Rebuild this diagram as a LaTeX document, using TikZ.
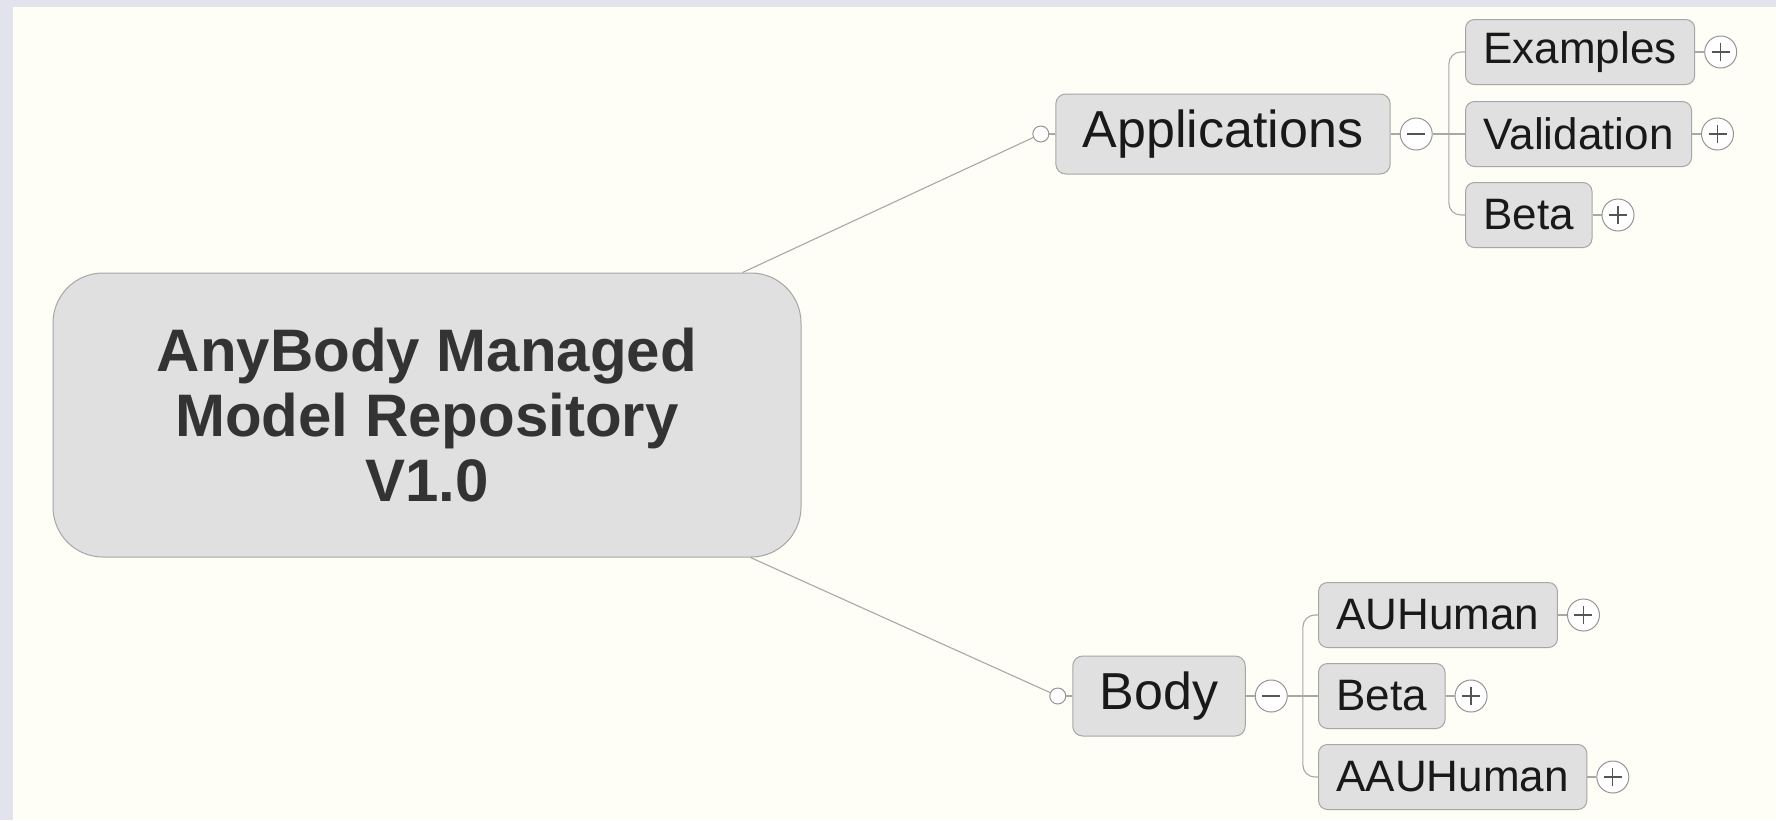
\documentclass[tikz,border=0pt]{standalone}
\usepackage{fontspec}
\setmainfont{Liberation Sans}
\usepackage{tikz}
\usetikzlibrary{positioning, calc}
\definecolor{paperbg}{HTML}{FEFEF6}
\definecolor{framebg}{HTML}{E3E3EE}
\definecolor{boxfill}{HTML}{E0E0E0}
\definecolor{boxline}{HTML}{A6A6A6}
\definecolor{linkgray}{HTML}{A8A8A8}
\definecolor{knobline}{HTML}{959595}
\definecolor{textdark}{HTML}{333333}
\definecolor{signcol}{HTML}{555555}

\begin{document}
\begin{tikzpicture}[x=1pt, y=-1pt,
    rootbox/.style={rectangle, rounded corners=50pt, draw=boxline, fill=boxfill, line width=1pt, minimum width=748pt, minimum height=284pt, align=center, text=textdark, font=\fontsize{60}{65}\selectfont\bfseries},
    topicbox/.style={rectangle, rounded corners=10pt, draw=boxline, fill=boxfill, line width=1pt, minimum height=80pt, inner xsep=27pt, text=black!90, font=\fontsize{52}{60}\selectfont},
    leafbox/.style={rectangle, rounded corners=9pt, draw=boxline, fill=boxfill, line width=1pt, minimum height=65pt, inner xsep=18pt, anchor=west, text=black!90, font=\fontsize{44}{50}\selectfont},
    knob/.style={circle, draw=knobline, fill=white, line width=1pt, minimum size=32pt, inner sep=0pt},
    expander/.style={knob, path picture={\draw[signcol, line width=1.2pt]
      ([xshift=-9pt]path picture bounding box.center) -- ([xshift=9pt]path picture bounding box.center)
      ([yshift=-9pt]path picture bounding box.center) -- ([yshift=9pt]path picture bounding box.center);}},
    collapser/.style={knob, path picture={\draw[signcol, line width=1.2pt]
      ([xshift=-9pt]path picture bounding box.center) -- ([xshift=9pt]path picture bounding box.center);}},
    stub/.style={circle, draw=knobline, fill=white, line width=1pt, minimum size=16pt, inner sep=0pt},
    link/.style={draw=linkgray, line width=1.1pt}]

  % Canvas
  \useasboundingbox (0,0) rectangle (1776,820);
  \fill[framebg] (0,0) rectangle (1776,820);
  \fill[paperbg] (13,7) rectangle (1776,820);

  % Root
  \node[rootbox] (root) at (427,415)
    {AnyBody Managed\\Model Repository\\V1.0};

  % Applications branch
  \node[topicbox] (app) at (1223,134) {Applications};
  \node[stub, left=6pt of app] (appd) {};
  \node[collapser, right=9pt of app] (appc) {};

  \node[leafbox] (ex) at (1465,52) {Examples};
  \node[leafbox] (val) at (1465,134) {Validation};
  \node[leafbox] (beA) at (1465,215) {Beta};
  \node[expander, right=9pt of ex] (exk) {};
  \node[expander, right=9pt of val] (valk) {};
  \node[expander, right=9pt of beA] (beAk) {};

  % Body branch
  \node[topicbox] (body) at (1159,696) {Body};
  \node[stub, left=6pt of body] (bodyd) {};
  \node[collapser, right=9pt of body] (bodyc) {};

  \node[leafbox] (au) at (1318,615) {AUHuman};
  \node[leafbox] (beB) at (1318,696) {Beta};
  \node[leafbox] (aau) at (1318,777) {AAUHuman};
  \node[expander, right=9pt of au] (auk) {};
  \node[expander, right=9pt of beB] (beBk) {};
  \node[expander, right=9pt of aau] (aauk) {};

  % Links
  \draw[link] ([xshift=-59pt]root.north east) -- (appd);
  \draw[link] (appd) -- (app);
  \draw[link] (app) -- (appc);
  \draw[link] (appc) -- (val);
  \coordinate (asplit) at ($(appc.east)!0.5!(val.west)$);
  \draw[link, rounded corners=12pt] (ex.west) -| (asplit) |- (beA.west);
  \draw[link] (ex) -- (exk);
  \draw[link] (val) -- (valk);
  \draw[link] (beA) -- (beAk);

  \draw[link] ([xshift=-51pt]root.south east) -- (bodyd);
  \draw[link] (bodyd) -- (body);
  \draw[link] (body) -- (bodyc);
  \draw[link] (bodyc) -- (beB);
  \coordinate (bsplit) at ($(bodyc.east)!0.5!(beB.west)$);
  \draw[link, rounded corners=12pt] (au.west) -| (bsplit) |- (aau.west);
  \draw[link] (au) -- (auk);
  \draw[link] (beB) -- (beBk);
  \draw[link] (aau) -- (aauk);
\end{tikzpicture}
\end{document}
